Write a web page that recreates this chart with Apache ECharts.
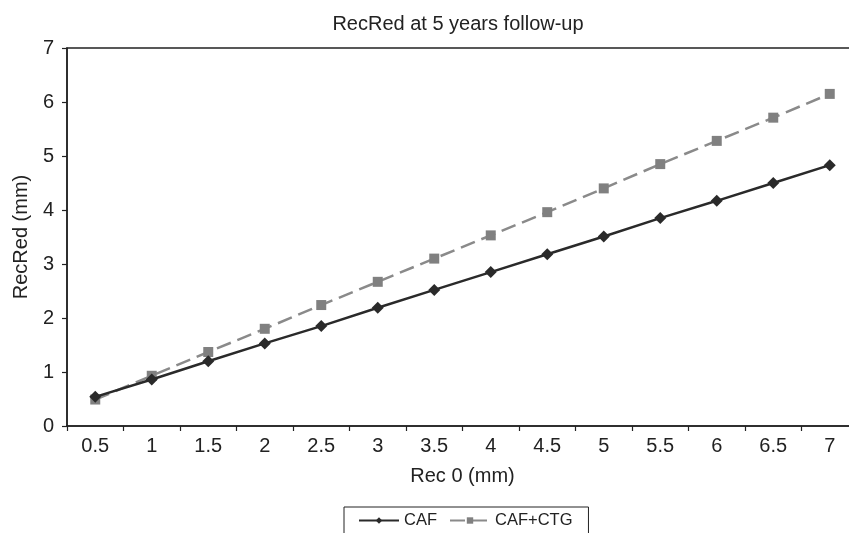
<!DOCTYPE html>
<html>
<head>
<meta charset="utf-8">
<script src="https://cdn.jsdelivr.net/npm/echarts@6/dist/echarts.min.js"></script>
<style>
html,body{margin:0;padding:0;background:#fff;overflow:hidden;width:849px;height:533px;}
#chart{width:860px;height:533px;}
</style>
</head>
<body>
<div id="chart"></div>
<script>
const categories = ['0.5','1','1.5','2','2.5','3','3.5','4','4.5','5','5.5','6','6.5','7'];
const cafValues = [0.54,0.86,1.20,1.53,1.85,2.19,2.52,2.85,3.18,3.51,3.85,4.17,4.50,4.83];
const cafCtgValues = [0.49,0.93,1.37,1.80,2.24,2.67,3.10,3.53,3.96,4.40,4.85,5.28,5.71,6.15];
const yTicks = [0,1,2,3,4,5,6,7];

const FONT = "'Liberation Sans', Arial, sans-serif";
const TXT = '#222';
const chart = echarts.init(document.getElementById('chart'), null, {renderer:'canvas'});
chart.setOption({
  animation: false,
  backgroundColor: '#fff',
  title: {
    text: 'RecRed at 5 years follow-up',
    left: 458, top: 14, padding: 0,
    textAlign: 'center',
    textStyle: {fontFamily: FONT, fontSize: 20, fontWeight: 'normal', color: TXT}
  },
  legend: {
    data: ['CAF','CAF+CTG'],
    left: 344, top: 507,
    padding: [5, 16, 14, 14],
    itemWidth: 40, itemHeight: 8, itemGap: 12,
    borderColor: '#222', borderWidth: 1,
    textStyle: {fontFamily: FONT, fontSize: 16.5, color: TXT}
  },
  grid: {
    left: 67, right: 2, top: 48, bottom: 107,
    show: true, borderColor: '#222', borderWidth: 1.5
  },
  xAxis: {
    type: 'category',
    data: categories,
    boundaryGap: true,
    name: 'Rec 0 (mm)',
    nameLocation: 'middle',
    nameGap: 40,
    nameTextStyle: {fontFamily: FONT, fontSize: 20, color: TXT},
    axisLine: {lineStyle: {color: '#222', width: 1.5}},
    axisTick: {show: true, length: 5, lineStyle: {color: '#222', width: 1.2}},
    axisLabel: {fontFamily: FONT, fontSize: 20, color: TXT, margin: 10, interval: 0},
    splitLine: {show: false}
  },
  yAxis: {
    type: 'value',
    min: yTicks[0], max: yTicks[yTicks.length-1], interval: 1,
    name: 'RecRed (mm)',
    nameLocation: 'middle',
    nameGap: 34,
    nameTextStyle: {fontFamily: FONT, fontSize: 20, color: TXT},
    axisLine: {show: true, lineStyle: {color: '#222', width: 1.5}},
    axisTick: {show: true, length: 5, lineStyle: {color: '#222', width: 1.2}},
    axisLabel: {fontFamily: FONT, fontSize: 20, color: TXT, margin: 13},
    splitLine: {show: false}
  },
  series: [
    {
      name: 'CAF', type: 'line', data: cafValues,
      symbol: 'diamond', symbolSize: 12,
      lineStyle: {color: '#2a2a2a', width: 2.5},
      itemStyle: {color: '#2a2a2a'},
      z: 3
    },
    {
      name: 'CAF+CTG', type: 'line', data: cafCtgValues,
      symbol: 'rect', symbolSize: 10,
      lineStyle: {color: '#8a8a8a', width: 2.5, type: [15, 7]},
      itemStyle: {color: '#808080'},
      z: 2
    }
  ]
});
</script>
</body>
</html>
